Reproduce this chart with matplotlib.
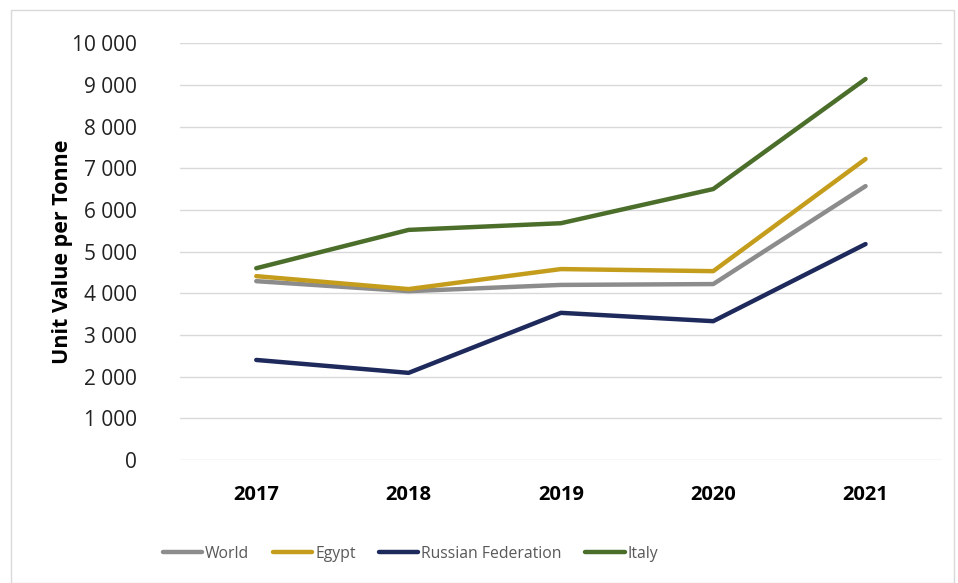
import matplotlib.pyplot as plt
from matplotlib.ticker import FuncFormatter
from matplotlib.patches import Rectangle

years = ['2017', '2018', '2019', '2020', '2021']
world = [4290, 4050, 4200, 4220, 6570]
egypt = [4410, 4100, 4580, 4530, 7220]
russia = [2400, 2090, 3530, 3330, 5180]
italy = [4600, 5520, 5680, 6500, 9140]

series = [
    ('World', world, '#8c8c8c'),
    ('Egypt', egypt, '#c59d1c'),
    ('Russian Federation', russia, '#1f2a5c'),
    ('Italy', italy, '#4b6e2b'),
]

plt.rcParams['font.family'] = ['Open Sans', 'DejaVu Sans']

fig = plt.figure(figsize=(9.58, 5.83), dpi=100)
ax = fig.add_axes([0.188, 0.211, 0.795, 0.715])

x = range(len(years))
for name, vals, col in series:
    ax.plot(x, vals, color=col, linewidth=3.2, label=name, solid_capstyle='round')

ax.set_xlim(-0.5, 4.5)
ax.set_ylim(0, 10000)
ax.set_yticks(range(0, 10001, 1000))
ax.yaxis.set_major_formatter(FuncFormatter(lambda v, p: f'{int(v):,}'.replace(',', ' ')))
ax.set_xticks(list(x))
ax.set_xticklabels(years, fontweight='bold', fontsize=14.5)
ax.tick_params(axis='y', labelsize=15, length=0, pad=31, labelcolor='#222222')
ax.tick_params(axis='x', length=0, pad=18)
ax.grid(axis='y', color='#d9d9d9', linewidth=1)
ax.set_axisbelow(True)
for s in ax.spines.values():
    s.set_visible(False)

ax.set_ylabel('Unit Value per Tonne', fontweight='bold', fontsize=15.5)
ax.yaxis.set_label_coords(-0.14, 0.5)

fig.legend(loc='lower left', bbox_to_anchor=(0.155, 0.012), ncol=4, frameon=False,
           fontsize=11.3, handlelength=2.5, handletextpad=0.2, columnspacing=1.5,
           labelcolor='#595959')

# thin frame round the chart
fig.patches.append(Rectangle((0.011, 0.0), 0.985, 0.982, transform=fig.transFigure,
                             fill=False, edgecolor='#d9d9d9', linewidth=1))

fig.savefig('out.png', dpi=100)
